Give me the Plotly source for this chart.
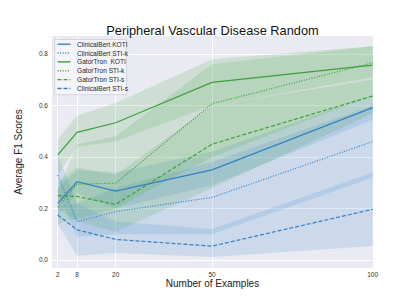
import plotly.graph_objects as go

# ---------------- data ----------------
x_vals = [2, 8, 20, 50, 100]
x_ticks = [2, 8, 20, 50, 100]
y_ticks = [0.0, 0.2, 0.4, 0.6, 0.8]

cb_koti = [0.220, 0.304, 0.268, 0.350, 0.592]
cb_koti_lo = [0.170, 0.260, 0.200, 0.290, 0.545]
cb_koti_hi = [0.280, 0.350, 0.340, 0.420, 0.640]

cb_stik = [0.330, 0.149, 0.188, 0.243, 0.460]
cb_stik_lo = [0.260, 0.090, 0.100, 0.100, 0.320]
cb_stik_hi = [0.410, 0.220, 0.280, 0.380, 0.600]

gt_koti = [0.408, 0.496, 0.533, 0.690, 0.757]
gt_koti_lo = [0.330, 0.440, 0.460, 0.600, 0.710]
gt_koti_hi = [0.470, 0.560, 0.610, 0.780, 0.830]

gt_stik = [0.205, 0.295, 0.298, 0.607, 0.766]
gt_stik_lo = [0.140, 0.160, 0.200, 0.400, 0.640]
gt_stik_hi = [0.270, 0.450, 0.480, 0.760, 0.830]

gt_stis = [0.250, 0.247, 0.216, 0.450, 0.637]
gt_stis_lo = [0.200, 0.150, 0.110, 0.280, 0.570]
gt_stis_hi = [0.300, 0.360, 0.330, 0.600, 0.700]

cb_stis = [0.175, 0.117, 0.080, 0.054, 0.197]
cb_stis_lo = [0.140, 0.017, 0.027, 0.012, 0.054]
cb_stis_hi = [0.210, 0.220, 0.150, 0.120, 0.340]

names = ["ClinicalBert KOTI", "ClinicalBert STI-k", "GatorTron  KOTI",
         "GatorTron STI-k", "GatorTron STI-s", "ClinicalBert STI-s"]

BLUE = (49, 130, 196)
GREEN = (60, 160, 60)

series = [
    (names[0], cb_koti, cb_koti_lo, cb_koti_hi, BLUE, "solid"),
    (names[1], cb_stik, cb_stik_lo, cb_stik_hi, BLUE, "1px,1.6px"),
    (names[2], gt_koti, gt_koti_lo, gt_koti_hi, GREEN, "solid"),
    (names[3], gt_stik, gt_stik_lo, gt_stik_hi, GREEN, "1px,1.6px"),
    (names[4], gt_stis, gt_stis_lo, gt_stis_hi, GREEN, "4px,2px"),
    (names[5], cb_stis, cb_stis_lo, cb_stis_hi, BLUE, "4px,2px"),
]

def rgb(c, a=1.0):
    return f"rgba({c[0]},{c[1]},{c[2]},{a})"

fig = go.Figure()

# bands
for name, m, lo, hi, col, dash in series:
    fig.add_trace(go.Scatter(
        x=x_vals + x_vals[::-1], y=hi + lo[::-1],
        fill="toself", fillcolor=rgb(col, 0.16), line=dict(width=0),
        mode="lines", hoverinfo="skip", showlegend=False))

# lines
for name, m, lo, hi, col, dash in series:
    fig.add_trace(go.Scatter(
        x=x_vals, y=m, mode="lines", name=name,
        line=dict(color=rgb(col), width=1.2, dash=dash),
        showlegend=False))

W, H = 415, 302
L, R, T, B = 52, 42, 36, 34
pw, ph = W - L - R, H - T - B

def px_x(p):
    return (p - L) / pw

def px_y(p):
    return (H - B - p) / ph

# custom legend (compact, matplotlib style)
shapes = [dict(type="rect", xref="paper", yref="paper",
               x0=px_x(54.7), x1=px_x(126.5), y0=px_y(94.7), y1=px_y(39.5),
               fillcolor="rgba(246,246,250,0.85)",
               line=dict(color="rgba(205,205,215,1)", width=0.8), layer="above")]
annotations = []
for i, (name, m, lo, hi, col, dash) in enumerate(series):
    yy = px_y(44.2 + i * 8.85)
    shapes.append(dict(type="line", xref="paper", yref="paper",
                       x0=px_x(57.5), x1=px_x(70.5), y0=yy, y1=yy,
                       line=dict(color=rgb(col), width=1.4, dash=dash), layer="above"))
    annotations.append(dict(xref="paper", yref="paper", x=px_x(75), y=yy,
                            text=name, showarrow=False, xanchor="left", yanchor="middle",
                            font=dict(size=6.6, color="#262626",
                                      family="Liberation Sans, Arial, sans-serif")))

fig.update_layout(
    width=W, height=H,
    margin=dict(l=L, r=R, t=T, b=B),
    paper_bgcolor="white", plot_bgcolor="#EAEAF2",
    title=dict(text="Peripheral Vascular Disease Random", x=0.512, xanchor="center",
               y=1 - 34.5 / H, yanchor="bottom",
               font=dict(size=12.8, color="#111111", family="Liberation Sans, Arial, sans-serif")),
    font=dict(family="Liberation Sans, Arial, sans-serif", color="#262626"),
    shapes=shapes, annotations=annotations,
    showlegend=False,
)
fig.update_xaxes(range=[0.2, 100.1], tickvals=x_ticks, ticktext=[str(v) for v in x_ticks],
                 showgrid=True, gridcolor="white", gridwidth=1, zeroline=False,
                 showline=False, ticks="", tickfont=dict(size=6.5, color="#333333"),
                 ticklabelstandoff=1,
                 title=dict(text="Number of Examples", font=dict(size=10, color="#222222"),
                            standoff=2))
fig.update_yaxes(range=[-0.031, 0.870], tickvals=y_ticks,
                 ticktext=[f"{v:.1f}" for v in y_ticks],
                 showgrid=True, gridcolor="white", gridwidth=1, zeroline=False,
                 showline=False, ticks="", tickfont=dict(size=6.5, color="#333333"),
                 ticklabelstandoff=3,
                 title=dict(text="Average F1 Scores", font=dict(size=10, color="#222222"),
                            standoff=14))

fig.write_html("out.html", config={"displayModeBar": False},
               post_script="document.body.style.margin='0';document.body.style.padding='0';")
